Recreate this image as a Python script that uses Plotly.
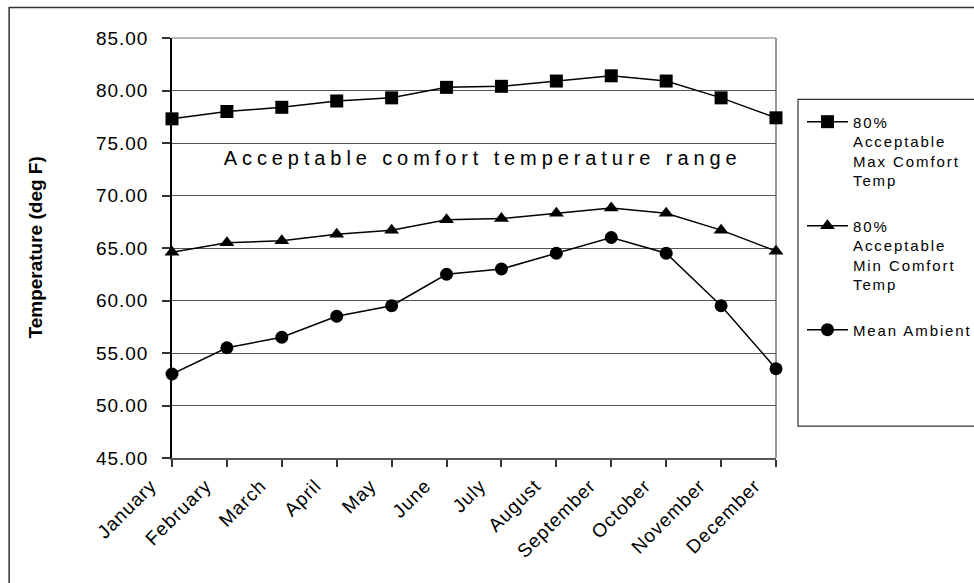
import plotly.graph_objects as go

months = ["January", "February", "March", "April", "May", "June", "July",
          "August", "September", "October", "November", "December"]
max_comfort = [77.3, 78.0, 78.4, 79.0, 79.3, 80.3, 80.4, 80.9, 81.4, 80.9, 79.3, 77.4]
min_comfort = [64.6, 65.5, 65.7, 66.3, 66.7, 67.7, 67.8, 68.3, 68.8, 68.3, 66.7, 64.7]
mean_ambient = [53.0, 55.5, 56.5, 58.5, 59.5, 62.5, 63.0, 64.5, 66.0, 64.5, 59.5, 53.5]

series_names = [
    "80%<br>Acceptable<br>Max Comfort<br>Temp",
    "80%<br>Acceptable<br>Min Comfort<br>Temp",
    "Mean Ambient",
]
y_title = "Temperature (deg F)"
range_label = "Acceptable comfort temperature range"

FONT = "Liberation Sans, Arial, sans-serif"

fig = go.Figure()
for i, (name, vals, sym) in enumerate(zip(series_names,
                                          [max_comfort, min_comfort, mean_ambient],
                                          ["square", "triangle-up", "circle"])):
    fig.add_trace(go.Scatter(
        x=months, y=vals, name=name, mode="lines+markers",
        line=dict(color="black", width=1.5),
        marker=dict(symbol=sym, size=13, color="black"),
        cliponaxis=False, legendgroup=f"g{i}",
    ))

W, H = 974, 583
ml, mr, mt, mb = 171.5, 198, 37.5, 125
pw = W - ml - mr
ph = H - mt - mb

def px2paper_x(px):
    return (px - ml) / pw

def px2paper_y(py):
    return (H - mb - py) / ph

fig.update_layout(
    width=W, height=H,
    margin=dict(l=ml, r=mr, t=mt, b=mb, pad=0),
    paper_bgcolor="white", plot_bgcolor="white",
    font=dict(family=FONT, color="black"),
    showlegend=True,
    legend=dict(
        x=px2paper_x(802), y=px2paper_y(105), xanchor="left", yanchor="top",
        font=dict(size=15, family=FONT, color="black"),
        bgcolor="rgba(0,0,0,0)", borderwidth=0,
        valign="top", tracegroupgap=23, traceorder="grouped",
        itemwidth=41,
    ),
    xaxis=dict(
        type="category", range=[0, 11], showgrid=False,
        showline=True, linecolor="#555555", linewidth=2,
        ticks="outside", ticklen=7, tickcolor="#333333", tickwidth=1.5,
        tickangle=-45, tickfont=dict(size=19, family=FONT, color="black"),
        ticklabelshift=-21,
        layer="below traces", zeroline=False,
    ),
    yaxis=dict(
        range=[45, 85], dtick=5, tickformat=".2f",
        showgrid=True, gridcolor="#555555", gridwidth=1,
        showline=True, linecolor="black", linewidth=1.5,
        ticks="outside", ticklen=8, tickcolor="#333333", tickwidth=1.5,
        tickfont=dict(size=19, family=FONT, color="black"),
        ticklabelstandoff=10,
        layer="below traces", zeroline=False,
    ),
    shapes=[
        # plot area top border (85 gridline)
        dict(type="line", xref="paper", yref="paper", x0=0, x1=1, y0=1, y1=1,
             line=dict(color="#777777", width=1.2), layer="below"),
        # plot area right border
        dict(type="line", xref="paper", yref="paper", x0=1, x1=1, y0=0, y1=1,
             line=dict(color="#999999", width=2), layer="below"),
        # legend frame
        dict(type="rect", xref="paper", yref="paper",
             x0=px2paper_x(798), x1=px2paper_x(1000),
             y0=px2paper_y(426), y1=px2paper_y(99),
             line=dict(color="#333333", width=1.2), fillcolor="rgba(0,0,0,0)"),
        # outer chart border
        dict(type="rect", xref="paper", yref="paper",
             x0=px2paper_x(8.5), x1=px2paper_x(1000),
             y0=px2paper_y(600), y1=px2paper_y(7),
             line=dict(color="#333333", width=1.5), fillcolor="rgba(0,0,0,0)"),
    ],
    annotations=[
        dict(text=y_title, xref="paper", yref="paper", x=0, y=0.5,
             xshift=34 - ml, xanchor="center", yanchor="middle", textangle=-90,
             showarrow=False, font=dict(size=19, family=FONT, color="black", weight="bold")),
        dict(text=range_label, xref="x", yref="y", x=5.66, y=73.6,
             xanchor="center", yanchor="middle", showarrow=False,
             font=dict(size=20, family=FONT, color="black")),
    ],
)

post = """
document.body.style.margin = '0';
document.body.style.overflow = 'hidden';
var gd = document.getElementById('{plot_id}');
function sp(){
  gd.querySelectorAll('.annotation-text').forEach(function(t){
    if (t.textContent.indexOf('comfort') >= 0) { t.style.letterSpacing = '4.9px'; }
  });
  gd.querySelectorAll('.xtick text, .ytick text').forEach(function(t){ t.style.letterSpacing = '1px'; });
  gd.querySelectorAll('.legendtext').forEach(function(t){ t.style.letterSpacing = '1.9px'; });
  gd.querySelectorAll('.legend, .legend *').forEach(function(el){
    if (el.hasAttribute && el.hasAttribute('clip-path')) { el.removeAttribute('clip-path'); }
  });
}
sp();
if (gd.on) { gd.on('plotly_afterplot', sp); }
"""

fig.write_html("out.html", post_script=post, config={"displayModeBar": False})
